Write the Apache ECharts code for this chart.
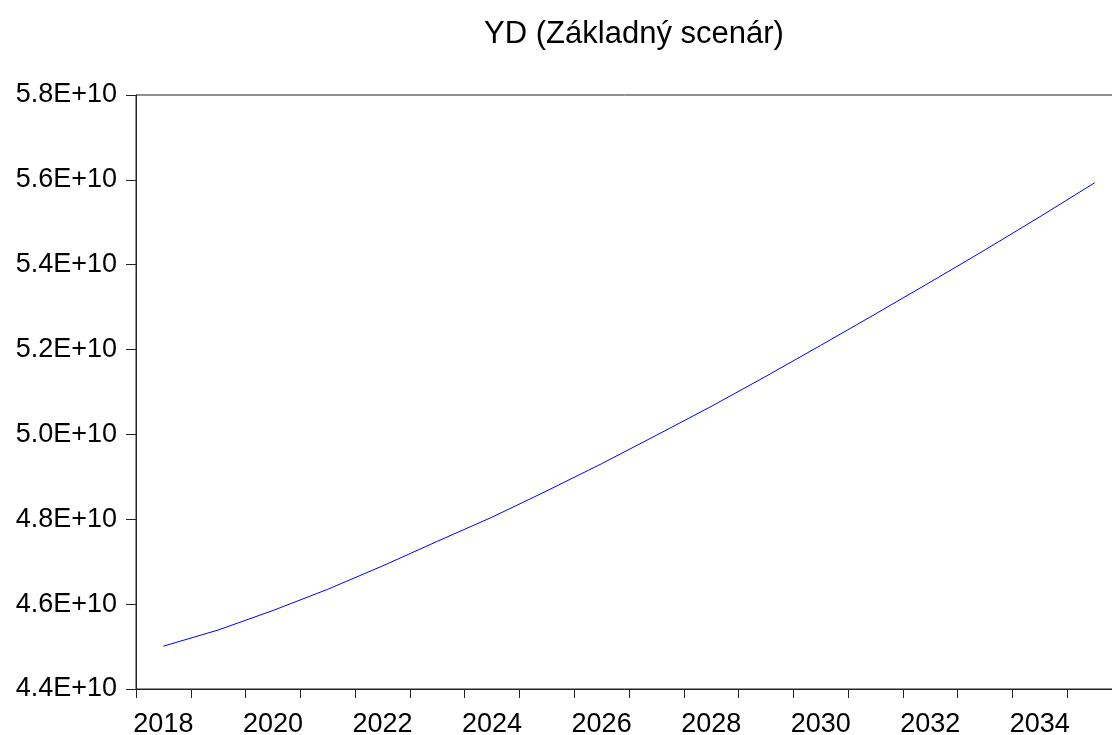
<!DOCTYPE html>
<html>
<head>
<meta charset="utf-8">
<script src="https://cdn.jsdelivr.net/npm/echarts@6/dist/echarts.min.js"></script>
<style>
html,body{margin:0;padding:0;background:#fff;overflow:hidden;}
#chart{width:1112px;height:735px;}
</style>
</head>
<body>
<div id="chart"></div>
<script>
const years = ['2018','2019','2020','2021','2022','2023','2024','2025','2026','2027','2028','2029','2030','2031','2032','2033','2034','2035'];
const ydValues = [4.501e10,4.539e10,4.585e10,4.635e10,4.690e10,4.748e10,4.805e10,4.867e10,4.931e10,4.998e10,5.066e10,5.137e10,5.210e10,5.284e10,5.359e10,5.435e10,5.513e10,5.593e10];
const titleText = 'YD (Základný scenár)';
const yMin = 4.4e10, yMax = 5.8e10, yStep = 0.2e10;

const chart = echarts.init(document.getElementById('chart'), null, {renderer:'canvas'});
chart.setOption({
  animation:false,
  backgroundColor:'#ffffff',
  title:{
    text:titleText,
    left:629, top:14, textAlign:'center',
    textStyle:{fontFamily:'Liberation Sans, Arial, sans-serif', fontSize:31, fontWeight:'normal', color:'#000'}
  },
  grid:{left:136, top:95, width:986, height:594, outerBoundsMode:'none', containLabel:false,
    show:true, borderColor:'#222', borderWidth:1, backgroundColor:'transparent'},
  xAxis:{
    type:'category',
    data:years,
    boundaryGap:true,
    axisLine:{lineStyle:{color:'#222', width:1}},
    axisTick:{show:true, interval:0, length:9, lineStyle:{color:'#222'}},
    axisLabel:{interval:1, margin:22, fontSize:27, color:'#000', fontFamily:'Liberation Sans, Arial, sans-serif'},
    splitLine:{show:false}
  },
  yAxis:{
    type:'value',
    min:yMin, max:yMax, interval:yStep,
    axisLine:{show:true, lineStyle:{color:'#222', width:1}},
    axisTick:{show:true, length:10, lineStyle:{color:'#222'}},
    axisLabel:{margin:19, fontSize:27, color:'#000', fontFamily:'Liberation Sans, Arial, sans-serif',
      formatter:function(v){ return (v/1e10).toFixed(1)+'E+10'; }},
    splitLine:{show:false}
  },
  series:[{
    type:'line',
    data:ydValues,
    showSymbol:false,
    symbol:'none',
    lineStyle:{color:'#0000ff', width:1},
    itemStyle:{color:'#0000ff'}
  }]
});
</script>
</body>
</html>
